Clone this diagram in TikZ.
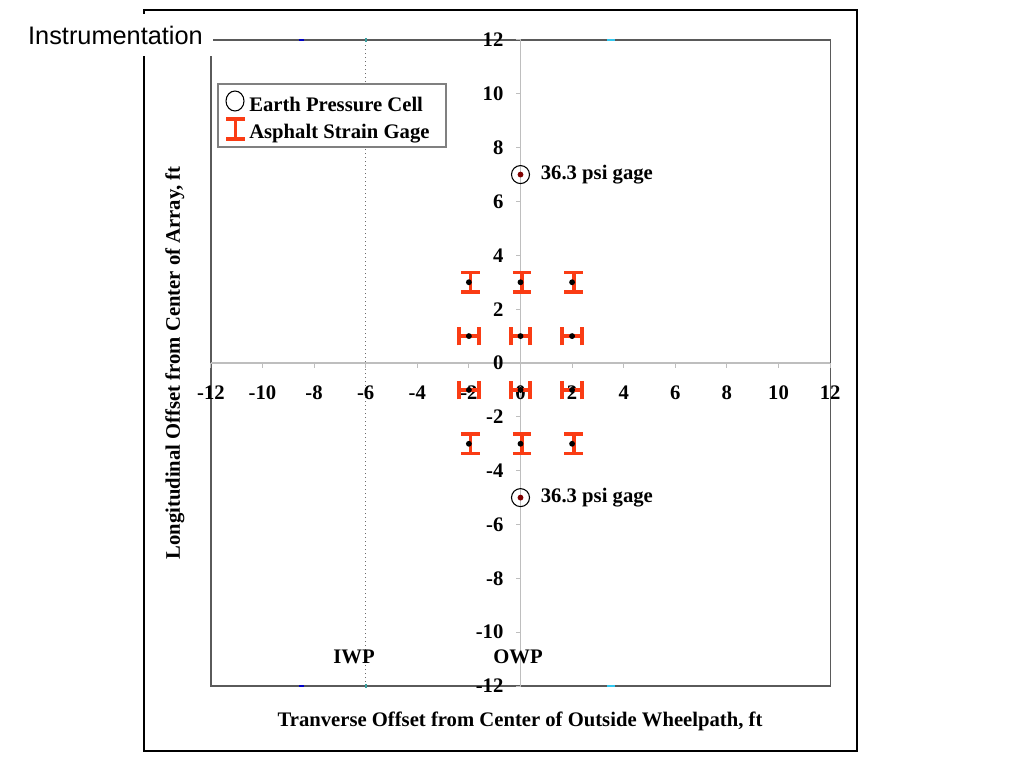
\documentclass[tikz,border=0pt]{standalone}
\usepackage{fontspec}
\setmainfont{Liberation Serif}
\newfontfamily\titlefont{Liberation Sans}
\definecolor{gageRed}{RGB}{250,60,20}
\definecolor{cellDot}{RGB}{128,0,0}
\definecolor{axisGray}{RGB}{190,190,190}
\definecolor{frameGray}{RGB}{90,90,90}
\definecolor{markBlue}{RGB}{0,0,200}
\definecolor{markTeal}{RGB}{60,160,160}
\definecolor{markCyan}{RGB}{50,200,240}
\tikzset{
  lbl/.style={font=\fontsize{15.5}{18}\selectfont\bfseries, inner sep=2pt},
  gage/.pic={\draw[gageRed, line width=2.9pt] (-7pt,7.3pt) -- (7pt,7.3pt) (0,7.3pt) -- (0,-7.3pt) (-7pt,-7.3pt) -- (7pt,-7.3pt);},
  cell/.pic={\draw[black, line width=0.8pt] (0,0) circle (6.75pt); \fill[cellDot] (0,0) circle (2.2pt);},
  gagedot/.style={fill=black, circle, inner sep=0pt, minimum size=4.4pt}
}
\begin{document}
\begin{tikzpicture}[x=0.75pt, y=-0.75pt]
    \useasboundingbox (0,0) rectangle (1024,768);
    \draw[line width=1.2pt] (144,10) rectangle (857,751);
    \draw[frameGray, line width=0.8pt] (211,40) rectangle (830.5,686);
    \begin{scope}[shift={(520.5,363)}, x=19.35pt, y=20.19pt]
      \draw[axisGray, line width=0.8pt] (-12,0) -- (12,0);
      \draw[axisGray, line width=0.8pt] (0,-12) -- (0,12);
      \draw[gray!85!black, line width=1pt, dotted] (-6,-12) -- (-6,12);
      \draw[markBlue, line width=1.5pt] (-8.6,12) -- (-8.4,12) (-8.6,-12) -- (-8.4,-12);
      \draw[markTeal, line width=1.2pt] (-6,11.92) -- (-6,12.08) (-6,-11.92) -- (-6,-12.08);
      \draw[markCyan, line width=1.8pt] (3.35,12) -- (3.65,12) (3.35,-12) -- (3.65,-12);
      \foreach \tk in {-12,-10,...,12} {
        \draw[axisGray, line width=0.8pt] (\tk,0) -- ++(0,-3.75pt);
        \draw[axisGray, line width=0.8pt] (0,\tk) -- ++(-3.75pt,0);
        \node[lbl] (xtick_\tk) at (\tk,-1.11) {\tk};
        \node[lbl, anchor=east] (ytick_\tk) at (-0.55,\tk) {\tk};
      }
      \coordinate (c_0) at (0,7);
      \coordinate (c_1) at (0,-5);
      \pic at (c_0) {cell};
      \pic at (c_1) {cell};
      \node[lbl, anchor=west, inner sep=0pt] (c_0_lbl) at (0.78,7) {36.3 psi gage};
      \node[lbl, anchor=west, inner sep=0pt] (c_1_lbl) at (0.78,-5) {36.3 psi gage};
      \coordinate (g_0) at (-2,3);
      \coordinate (g_1) at (0,3);
      \coordinate (g_2) at (2,3);
      \coordinate (g_3) at (-2,1);
      \coordinate (g_4) at (0,1);
      \coordinate (g_5) at (2,1);
      \coordinate (g_6) at (-2,-1);
      \coordinate (g_7) at (0,-1);
      \coordinate (g_8) at (2,-1);
      \coordinate (g_9) at (-2,-3);
      \coordinate (g_10) at (0,-3);
      \coordinate (g_11) at (2,-3);
      \foreach \g in {g_0,g_1,g_2,g_9,g_10,g_11} \pic at ([xshift=1.2pt]\g) {gage};
      \foreach \g in {g_3,g_4,g_5,g_6,g_7,g_8} \pic[rotate=90] at (\g) {gage};
      \foreach \g in {g_0,g_1,g_2,g_3,g_4,g_5,g_6,g_7,g_8,g_9,g_10,g_11} \node[gagedot] at (\g) {};
    \end{scope}
    \draw[gray, line width=0.8pt, fill=white] (218,84) rectangle (446,147);
    \draw[black, line width=0.8pt] (235,101) ellipse (6.75pt and 7.5pt);
    \pic at (235.5,129) {gage};
    \node[lbl, anchor=base west, inner sep=0pt] (leg_cell) at (249,111) {Earth Pressure Cell};
    \node[lbl, anchor=base west, inner sep=0pt] (leg_gage) at (249,138) {Asphalt Strain Gage};
    \node[lbl] (iwp) at (354,657) {IWP};
    \node[lbl] (owp) at (518,657) {OWP};
    \node[lbl] (xtitle) at (520,721) {Tranverse Offset from Center of Outside Wheelpath, ft};
    \node[lbl, rotate=90] (ytitle) at (175,363) {Longitudinal Offset from Center of Array, ft};
    \node[fill=white, inner xsep=7.5pt, minimum height=31.5pt, font=\titlefont\fontsize{19}{22}\selectfont] (title) at (115.5,35) {Instrumentation};
  \end{tikzpicture}
\end{document}
